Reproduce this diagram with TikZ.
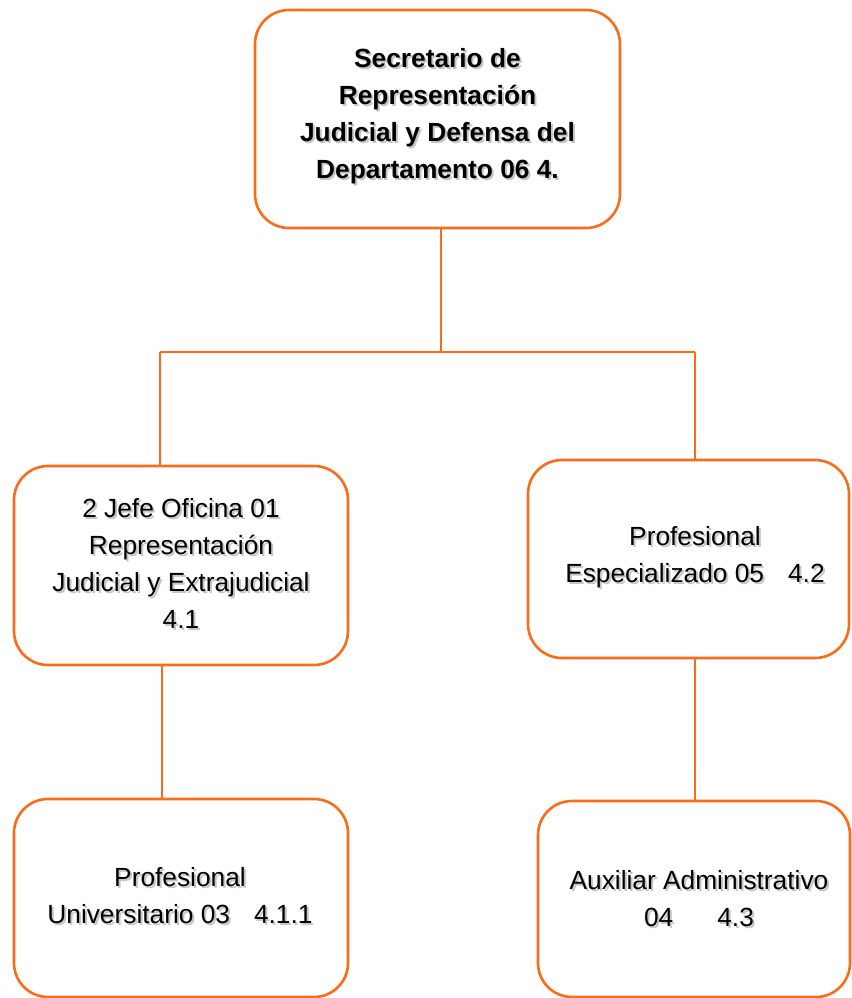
\documentclass[tikz,border=0pt]{standalone}
\usepackage{fontspec}
\setmainfont{Liberation Sans}
\definecolor{orgline}{RGB}{250,108,26}
\definecolor{shadowgray}{RGB}{150,150,150}
\tikzset{
  box/.style={draw=orgline, line width=2.6pt, rounded corners=34pt, fill=white},
  conn/.style={draw=orgline, line width=2pt},
  lbl/.style={align=center, font=\fontsize{26.3}{37}\selectfont, text=black, inner sep=0pt},
  shd/.style={lbl, text=shadowgray, opacity=0.55},
}
\begin{document}
\begin{tikzpicture}[x=1pt,y=-1pt]
\useasboundingbox (0,0) rectangle (851,998);
% boxes
\draw[box] (255,10) rectangle (620,228);
\draw[box] (14,466) rectangle (348,665);
\draw[box] (528,460) rectangle (849,658);
\draw[box] (14,799) rectangle (348,997);
\draw[box] (538,801) rectangle (850,997);
% connector points
\coordinate (topS) at (441,228);
\coordinate (bus) at (441,352);
\coordinate (busL) at (160,352);
\coordinate (busR) at (695,352);
\coordinate (leftN) at (160,466);
\coordinate (rightN) at (695,460);
\coordinate (leftS) at (162,665);
\coordinate (blN) at (162,799);
\coordinate (rightS) at (695,658);
\coordinate (brN) at (695,801);
\draw[conn] (topS) -- (bus);
\draw[conn] (busL) -- (busR);
\draw[conn] (busL) -- (leftN);
\draw[conn] (busR) -- (rightN);
\draw[conn] (leftS) -- (blN);
\draw[conn] (rightS) -- (brN);
% text shadows
\node[shd, font=\fontsize{26.3}{37}\selectfont\bfseries] at (439.5,118.5) {Secretario de\\Representación\\Judicial y Defensa del\\Departamento 06 4.};
\node[shd] at (183,565.5) {2 Jefe Oficina 01\\Representación\\Judicial y Extrajudicial\\4.1};
\node[shd] at (697,559.5) {Profesional\\Especializado 05\hskip24pt 4.2};
\node[shd] at (182,897.5) {Profesional\\Universitario 03\hskip24pt 4.1.1};
\node[shd] at (701,900.5) {Auxiliar Administrativo\\04\hskip44pt 4.3};
% texts
\node[lbl, font=\fontsize{26.3}{37}\selectfont\bfseries] (topT) at (437.5,116.5) {Secretario de\\Representación\\Judicial y Defensa del\\Departamento 06 4.};
\node[lbl] (leftT) at (181,563.5) {2 Jefe Oficina 01\\Representación\\Judicial y Extrajudicial\\4.1};
\node[lbl] (rightT) at (695,557.5) {Profesional\\Especializado 05\hskip24pt 4.2};
\node[lbl] (blT) at (180,895.5) {Profesional\\Universitario 03\hskip24pt 4.1.1};
\node[lbl] (brT) at (699,898.5) {Auxiliar Administrativo\\04\hskip44pt 4.3};
\end{tikzpicture}
\end{document}
